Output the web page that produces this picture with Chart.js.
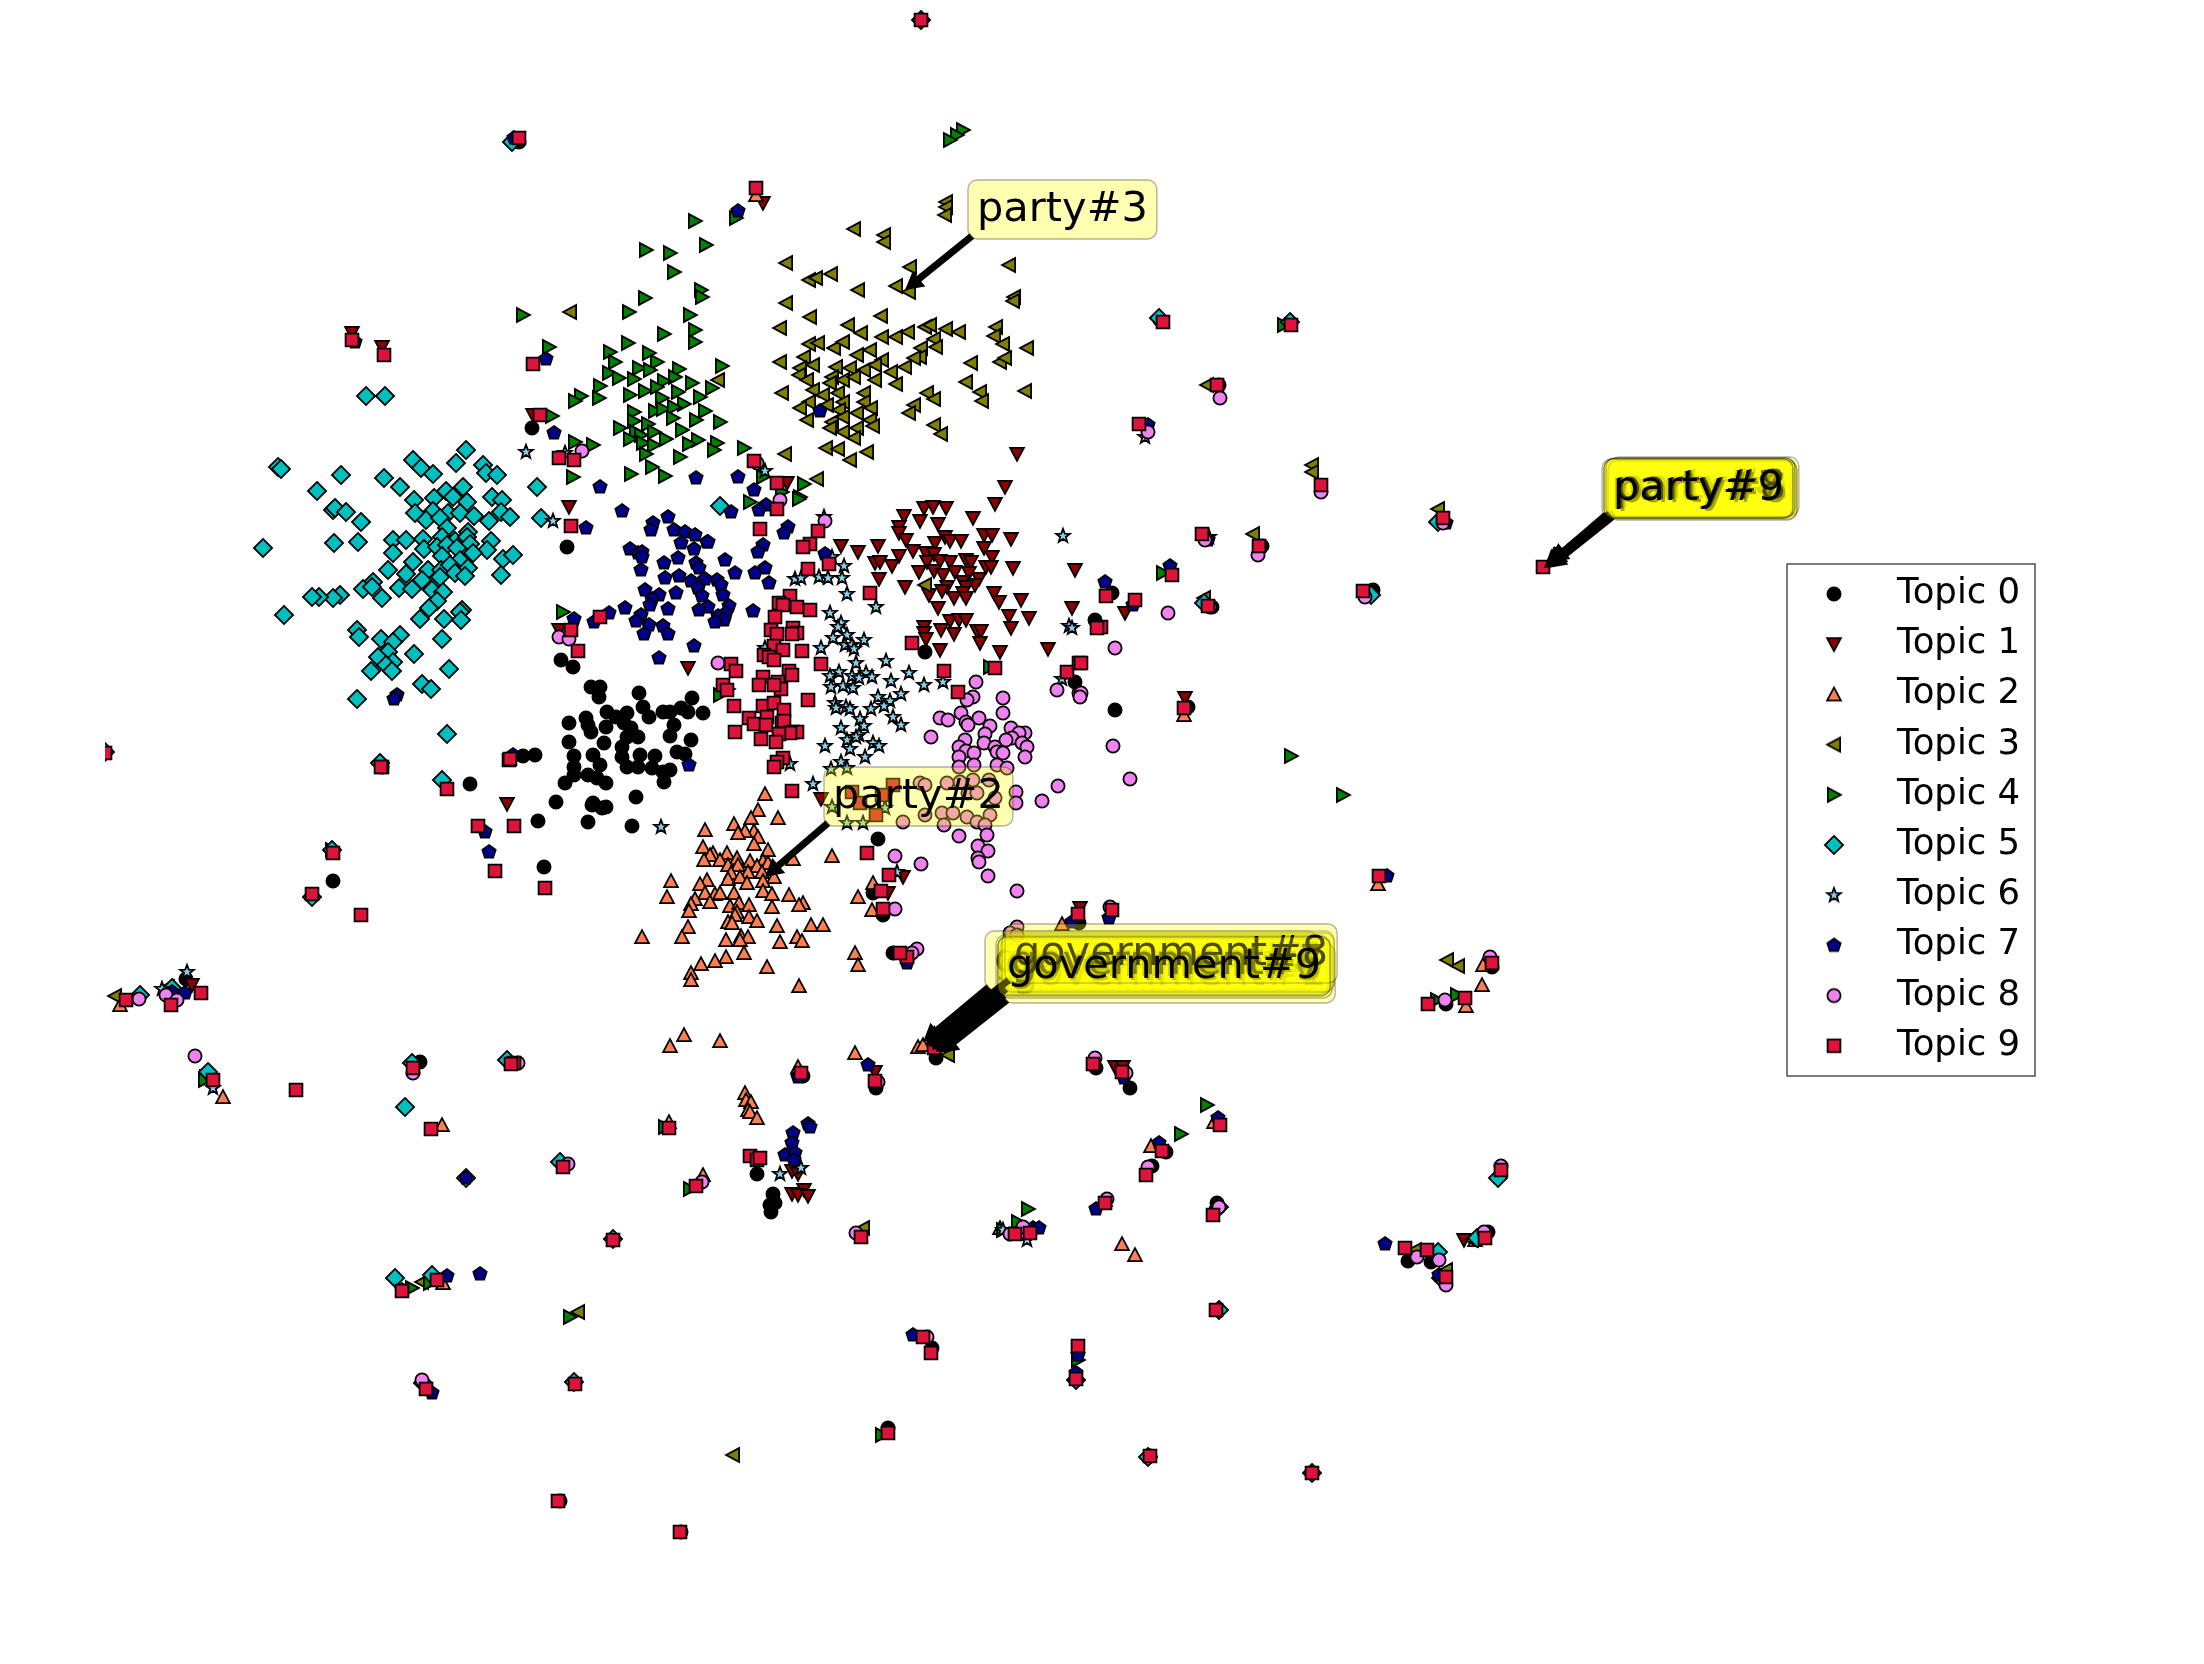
<!DOCTYPE html>
<html>
<head>
<meta charset="utf-8">
<title>Topics</title>
<script src="https://cdn.jsdelivr.net/npm/chart.js@4/dist/chart.umd.js"></script>
<style>
  html, body { margin: 0; background: #fff; }
  canvas { display: block; }
</style>
</head>
<body>
<canvas id="topicChart" width="2204" height="1664"></canvas>
<script>
// Points, one list per topic
const topic0 = [[532,428],[567,547],[561,660],[573,667],[591,687],[600,687],[599,697],[639,693],[692,698],[703,713],[607,712],[616,717],[627,713],[643,707],[649,717],[663,712],[670,712],[681,708],[688,712],[606,727],[624,723],[631,728],[638,737],[627,737],[674,725],[670,736],[691,740],[586,718],[588,725],[591,732],[569,723],[569,742],[604,743],[593,755],[574,756],[622,747],[622,757],[627,767],[600,765],[640,755],[655,756],[638,767],[652,768],[677,752],[685,754],[663,772],[670,770],[574,767],[574,775],[588,775],[597,778],[606,783],[565,783],[664,782],[636,797],[556,802],[593,803],[606,807],[523,756],[535,755],[470,784],[592,805],[602,808],[538,821],[588,822],[632,826],[544,867],[878,839],[333,881],[925,652],[1095,620],[1075,682],[1115,710],[757,1174],[773,1194],[775,1203],[770,1205],[771,1212],[1130,1088],[1096,1068],[1166,1152],[1152,1166],[1488,1232],[1408,1261],[1431,1262],[1217,1203],[873,893],[883,915],[893,953],[936,1058],[803,1076],[876,1088],[1079,923],[186,979],[420,1062],[1219,385],[1160,320],[1262,546],[1112,593],[1373,590],[1212,607],[1188,707],[932,1348],[888,1428],[1492,967],[1446,1004],[382,767],[519,142],[921,20],[560,1501],[681,1532],[1312,1473],[1150,1456]];
const topic1 = [[569,507],[1005,487],[995,504],[924,508],[933,507],[946,508],[904,516],[920,521],[973,518],[899,527],[899,533],[938,524],[906,540],[945,537],[984,535],[992,535],[1011,539],[935,543],[950,541],[961,541],[913,551],[841,546],[878,546],[858,552],[899,556],[984,548],[992,557],[926,553],[934,554],[927,562],[940,561],[950,562],[966,560],[971,562],[875,563],[880,562],[892,566],[1013,568],[1075,570],[919,572],[934,571],[943,575],[955,572],[969,573],[986,567],[991,567],[879,579],[979,579],[963,582],[975,585],[905,587],[947,587],[966,587],[929,595],[942,591],[954,598],[963,593],[966,598],[994,593],[999,602],[1021,600],[938,608],[1072,608],[1009,616],[1029,618],[950,621],[959,620],[966,620],[924,627],[941,630],[954,634],[977,631],[981,631],[1011,628],[924,633],[926,639],[980,643],[940,650],[1000,652],[1048,649],[688,668],[821,799],[1125,613],[763,203],[1017,454],[787,483],[559,630],[533,415],[903,877],[888,893],[875,1072],[1080,908],[1115,1067],[1123,1067],[792,1171],[798,1174],[804,1190],[792,1194],[798,1195],[808,1196],[1464,1240],[1185,698],[207,1076],[192,985],[507,804],[352,333],[382,347]];
const topic2 = [[765,794],[758,810],[778,818],[751,818],[734,824],[705,830],[754,831],[745,831],[758,837],[738,833],[754,844],[703,847],[768,850],[713,853],[727,853],[710,855],[737,858],[704,860],[750,861],[763,861],[793,859],[720,860],[728,865],[738,865],[757,866],[768,863],[731,873],[748,872],[762,872],[774,877],[728,879],[740,877],[671,881],[707,880],[700,884],[747,883],[763,881],[705,893],[734,893],[715,894],[763,891],[772,894],[789,895],[667,897],[695,899],[691,904],[720,893],[710,902],[689,911],[730,906],[739,903],[749,905],[772,907],[803,903],[799,905],[737,912],[735,915],[749,917],[757,921],[728,922],[732,923],[688,927],[777,926],[811,925],[823,925],[682,937],[726,940],[741,936],[748,937],[797,937],[780,942],[802,941],[642,937],[740,940],[744,953],[726,957],[715,961],[701,964],[767,967],[691,973],[691,980],[799,986],[855,953],[858,965],[832,856],[858,897],[873,883],[872,910],[684,1035],[670,1046],[720,1041],[918,1047],[923,1045],[855,1053],[798,1067],[745,1093],[746,1100],[751,1102],[748,1110],[750,1112],[757,1118],[703,1175],[669,1122],[1062,924],[120,1005],[223,1097],[442,1125],[443,1283],[1122,1244],[1135,1255],[1151,1146],[1214,1122],[1105,1200],[1475,1240],[1482,985],[1483,965],[1378,884],[1466,1006],[1184,715],[756,195],[1000,1228]];
const topic3 = [[946,202],[946,207],[945,215],[854,229],[884,235],[884,242],[786,263],[910,267],[1009,265],[809,280],[816,278],[831,274],[858,290],[896,286],[909,292],[1014,297],[1013,301],[786,303],[570,312],[810,317],[881,316],[848,325],[780,328],[861,333],[882,337],[896,337],[908,332],[925,327],[930,325],[946,329],[959,332],[996,327],[994,336],[1003,344],[1027,348],[934,339],[936,347],[809,344],[818,343],[834,348],[843,342],[870,350],[857,355],[882,360],[921,348],[920,357],[780,362],[804,357],[813,365],[836,367],[850,368],[914,358],[905,367],[971,363],[1000,362],[1005,358],[800,368],[799,375],[807,380],[832,377],[864,370],[875,365],[891,372],[718,380],[830,383],[843,380],[854,377],[875,380],[896,384],[966,382],[782,393],[813,390],[823,395],[838,393],[864,393],[980,392],[927,393],[934,399],[1025,391],[982,401],[809,402],[800,408],[827,405],[843,402],[864,402],[914,405],[909,413],[871,408],[839,410],[857,413],[807,420],[832,422],[870,420],[843,417],[830,428],[843,432],[857,428],[873,426],[934,425],[941,434],[854,438],[826,448],[838,449],[867,452],[785,454],[850,460],[817,479],[925,585],[1312,465],[1312,472],[1438,509],[1253,534],[1207,385],[1204,598],[115,996],[168,987],[422,1282],[578,1312],[733,1455],[863,1228],[1447,960],[1458,966],[1415,1250],[1446,1270],[1472,1240],[948,1055]];
const topic4 = [[695,221],[736,218],[706,245],[646,250],[670,253],[674,272],[645,298],[701,290],[702,297],[629,312],[690,315],[523,315],[664,334],[695,330],[695,342],[628,343],[549,347],[610,352],[615,362],[649,353],[657,362],[722,366],[639,368],[650,370],[679,369],[609,373],[619,378],[675,377],[634,379],[664,381],[692,383],[600,386],[581,396],[575,401],[599,398],[630,395],[645,391],[657,387],[678,392],[712,388],[700,397],[662,398],[684,404],[634,412],[655,411],[663,409],[674,407],[705,411],[552,416],[634,421],[648,424],[673,418],[696,420],[720,422],[620,428],[682,430],[636,432],[654,432],[630,439],[641,435],[666,439],[698,440],[575,442],[643,443],[654,445],[689,444],[717,443],[593,445],[714,450],[646,454],[744,448],[680,457],[652,467],[631,474],[665,476],[573,477],[763,477],[804,484],[782,492],[800,497],[563,612],[990,667],[720,695],[750,502],[799,499],[963,130],[957,135],[950,140],[1291,756],[1343,795],[1163,573],[1284,325],[1207,1105],[1181,1134],[1078,1360],[570,1317],[1028,1209],[1018,1222],[1003,1230],[665,1127],[690,1189],[882,1435],[205,1080],[412,1288],[430,1283],[1437,1000],[1457,995],[332,850],[728,689]];
const topic5 = [[278,467],[281,469],[341,475],[317,491],[384,478],[400,487],[413,460],[421,468],[433,474],[466,450],[456,463],[483,465],[486,473],[497,475],[414,500],[446,491],[463,487],[434,498],[453,497],[467,502],[492,497],[502,500],[333,510],[335,508],[346,512],[361,522],[415,513],[433,511],[448,513],[460,513],[474,516],[501,512],[510,517],[426,520],[440,518],[489,521],[447,528],[468,532],[263,548],[334,543],[358,542],[393,540],[406,540],[423,539],[442,537],[455,541],[467,537],[491,541],[393,553],[424,549],[437,547],[447,545],[470,544],[457,548],[487,550],[413,562],[442,556],[460,560],[473,553],[503,559],[513,555],[388,570],[406,574],[428,570],[441,570],[450,565],[468,568],[455,573],[501,575],[465,576],[422,580],[440,577],[373,582],[363,589],[372,587],[399,588],[412,589],[432,590],[443,592],[382,598],[340,595],[333,598],[319,597],[312,597],[437,601],[429,608],[462,610],[460,612],[284,615],[420,619],[444,619],[461,620],[357,630],[359,637],[400,635],[381,639],[393,642],[442,639],[388,652],[414,654],[378,657],[393,662],[386,665],[371,671],[392,671],[449,669],[422,684],[431,689],[357,699],[447,734],[442,780],[537,487],[541,518],[380,763],[720,506],[366,396],[385,396],[105,752],[512,142],[1159,318],[1290,322],[1438,522],[1371,595],[1204,603],[140,995],[172,988],[208,1072],[412,1063],[405,1107],[507,1060],[466,1178],[560,1162],[395,1278],[432,1275],[423,1383],[574,1382],[1498,1178],[1438,1252],[1441,1278],[1477,1238],[1219,1207],[1219,1310],[1076,1380],[1148,1457],[1312,1473],[613,1239],[921,20],[312,897],[332,850]];
const topic6 = [[553,521],[824,517],[1063,536],[832,557],[844,566],[795,579],[801,578],[819,577],[828,578],[842,578],[847,594],[876,607],[830,613],[841,623],[838,627],[1069,626],[1072,628],[847,635],[833,638],[864,640],[845,645],[852,645],[821,648],[854,649],[856,663],[886,661],[839,672],[909,673],[830,676],[852,676],[866,673],[859,678],[872,677],[891,681],[943,682],[831,687],[843,686],[853,688],[924,685],[901,694],[878,697],[890,701],[884,706],[835,703],[836,708],[846,707],[850,709],[871,709],[893,717],[860,719],[864,726],[841,728],[901,725],[859,735],[856,737],[847,740],[873,743],[879,746],[825,746],[850,749],[865,757],[790,764],[841,762],[831,769],[847,768],[813,784],[765,648],[832,807],[847,823],[863,823],[885,808],[661,827],[897,872],[526,452],[565,453],[1062,679],[1145,437],[1109,592],[1209,537],[780,1174],[801,1168],[1003,1230],[1027,1240],[187,972],[162,989],[213,1088],[765,471]];
const topic7 = [[600,487],[622,511],[586,528],[668,517],[653,523],[651,530],[674,530],[685,532],[695,535],[707,542],[708,542],[681,543],[694,549],[630,549],[638,553],[642,552],[642,557],[664,563],[678,558],[641,570],[696,563],[699,568],[725,560],[735,573],[665,578],[679,576],[691,581],[705,579],[717,580],[721,585],[698,588],[645,590],[676,593],[659,595],[702,596],[652,599],[650,605],[723,595],[708,607],[729,606],[668,609],[699,610],[625,608],[609,613],[753,611],[641,615],[726,613],[718,616],[636,621],[724,620],[715,622],[574,619],[594,622],[649,625],[663,626],[644,634],[668,634],[694,646],[659,658],[754,490],[766,505],[759,510],[731,512],[788,527],[784,533],[763,545],[758,552],[765,568],[755,573],[769,583],[825,554],[689,765],[738,211],[546,359],[554,433],[696,478],[738,477],[820,411],[397,695],[394,699],[1148,425],[1105,582],[1170,566],[1208,540],[1446,523],[1133,605],[1385,1244],[1159,1143],[1218,1118],[1096,1209],[1124,1078],[1078,1355],[1076,1373],[1439,1275],[793,1133],[792,1143],[808,1124],[810,1127],[785,1155],[795,1153],[794,1160],[868,1065],[798,1077],[913,1335],[1033,1228],[1039,1228],[1072,922],[1109,918],[907,963],[1387,876],[185,993],[172,992],[466,1178],[480,1274],[447,1276],[402,1290],[432,1393],[355,342],[489,852],[485,832],[514,138],[513,755]];
const topic8 = [[825,521],[718,663],[559,637],[569,639],[976,682],[1057,690],[1079,693],[1003,698],[973,697],[967,700],[1003,713],[961,713],[940,718],[948,720],[979,718],[966,722],[968,725],[990,726],[1011,728],[931,737],[985,734],[1025,733],[1019,733],[1012,738],[965,740],[984,743],[959,747],[1022,743],[1027,747],[995,747],[1006,740],[966,751],[974,753],[997,752],[1003,753],[959,757],[1025,757],[974,765],[959,767],[997,765],[1007,768],[1058,786],[1042,801],[1016,792],[1016,803],[1130,779],[989,780],[973,780],[960,782],[947,783],[920,783],[925,785],[995,798],[968,793],[977,793],[990,815],[942,813],[953,813],[967,817],[977,822],[925,815],[903,822],[944,825],[985,825],[959,836],[987,835],[978,846],[988,851],[978,858],[979,862],[988,876],[1017,891],[895,856],[921,864],[895,909],[917,949],[912,953],[1017,927],[1010,933],[1017,935],[1110,907],[940,1037],[878,1082],[1220,398],[1148,432],[1258,555],[1168,613],[1115,648],[1081,693],[1080,697],[1113,746],[1205,540],[1210,607],[1365,597],[1443,523],[1321,492],[1095,1058],[1126,1073],[1148,1167],[1107,1199],[1219,1207],[1417,1257],[1439,1260],[1446,1285],[1501,1166],[1484,1232],[568,1164],[702,1182],[856,1233],[927,1337],[1023,1227],[1010,1234],[139,999],[166,995],[177,1000],[195,1056],[413,1073],[518,1063],[422,1380],[1490,957],[1445,1000],[582,451],[757,463],[780,500]];
const topic9 = [[571,526],[571,630],[578,651],[600,617],[777,509],[777,483],[760,529],[818,531],[810,544],[803,547],[829,564],[808,569],[870,593],[790,596],[779,603],[783,605],[797,607],[810,610],[775,617],[793,628],[797,633],[792,634],[771,630],[777,634],[774,646],[783,650],[802,651],[764,655],[769,657],[774,660],[821,664],[731,664],[736,671],[789,671],[792,675],[763,677],[759,685],[778,682],[781,689],[774,685],[723,685],[727,690],[734,706],[808,700],[763,706],[774,703],[784,710],[749,718],[767,717],[754,724],[766,725],[782,723],[784,721],[793,732],[797,732],[790,733],[779,734],[735,732],[761,739],[776,742],[783,758],[777,762],[774,767],[792,791],[912,643],[944,671],[995,668],[958,692],[1067,672],[1079,663],[540,415],[559,458],[574,460],[509,760],[382,767],[756,188],[533,364],[754,461],[852,792],[893,785],[882,795],[860,803],[876,815],[867,853],[889,875],[881,891],[883,909],[907,957],[900,953],[934,1048],[801,1073],[875,1081],[1078,914],[1112,910],[1093,1064],[1122,1072],[1163,322],[1291,325],[1217,385],[1139,424],[1321,485],[1443,518],[1202,534],[1259,546],[1172,575],[1106,596],[1135,600],[1208,606],[1101,627],[1097,628],[1081,663],[1363,591],[1543,567],[1184,708],[1220,1125],[1162,1151],[1146,1175],[1105,1203],[1213,1215],[1216,1310],[1078,1346],[1076,1379],[1150,1456],[1312,1473],[1501,1170],[1405,1248],[1427,1250],[1446,1277],[1485,1238],[1379,876],[1492,963],[1428,1004],[1465,998],[669,1128],[750,1156],[757,1160],[760,1158],[563,1167],[696,1186],[613,1240],[861,1237],[1015,1234],[1030,1233],[923,1337],[931,1353],[888,1433],[575,1384],[558,1501],[680,1532],[126,1000],[171,1005],[201,993],[213,1080],[296,1090],[413,1068],[431,1129],[514,1063],[511,1064],[402,1291],[437,1280],[426,1389],[105,753],[921,20],[519,138],[352,340],[384,355],[312,894],[333,853],[361,915],[381,767],[478,826],[514,826],[447,789],[495,871],[545,888],[510,759]];

const topicNames = ['Topic 0', 'Topic 1', 'Topic 2', 'Topic 3', 'Topic 4', 'Topic 5', 'Topic 6', 'Topic 7', 'Topic 8', 'Topic 9'];
const topicColors = ['#000000', '#8b0000', '#ff7f50', '#808000', '#008000', '#00bfbf', '#87ceeb', '#00008b', '#ee82ee', '#dc143c'];
const topicShapes = ['circle', 'down', 'up', 'left', 'right', 'diamond', 'star', 'pentagon', 'circle', 'square'];
const topicPoints = [topic0, topic1, topic2, topic3, topic4, topic5, topic6, topic7, topic8, topic9];

// Labels in drawing order: text, text x, baseline y, arrow tip x, arrow tip y
const annotationText = ['party#3', 'party#2',
  'party#0', 'party#1', 'party#4', 'party#5', 'party#6', 'party#7', 'party#8', 'party#9',
  'government#0', 'government#1', 'government#3', 'government#4', 'government#5', 'government#6', 'government#7', 'government#8', 'government#9'];
const annotationX = [977, 833,
  1617, 1619, 1611, 1615, 1617, 1613, 1615, 1613,
  994, 1012, 1011, 1005, 1009, 1007, 1011, 1014, 1007];
const annotationY = [221, 808,
  501, 498, 500, 499, 502, 500, 499, 500,
  972, 985, 972, 976, 980, 977, 974, 965, 978];
const arrowTipX = [905, 765,
  1548, 1550, 1544, 1546, 1548, 1546, 1547, 1546,
  923, 940, 932, 928, 936, 932, 930, 926, 936];
const arrowTipY = [290, 877,
  565, 562, 568, 566, 568, 566, 565, 566,
  1042, 1053, 1048, 1046, 1052, 1050, 1047, 1044, 1051];

function tracePolygon(ctx, pts) {
  ctx.beginPath();
  pts.forEach(function(p, i) {
    if (i === 0) ctx.moveTo(p[0], p[1]); else ctx.lineTo(p[0], p[1]);
  });
  ctx.closePath();
}

// Chart.js has no pentagon or 5-point star, so each marker is a small canvas
function makeMarker(shape, color) {
  const c = document.createElement('canvas');
  c.width = 28;
  c.height = 28;
  const ctx = c.getContext('2d');
  ctx.translate(14, 14);
  ctx.fillStyle = color;
  ctx.strokeStyle = '#000';
  ctx.lineWidth = 1.8;
  ctx.lineJoin = 'miter';
  if (shape === 'circle') {
    ctx.beginPath();
    ctx.arc(0, 0, 6.6, 0, Math.PI * 2);
  } else if (shape === 'down') {
    tracePolygon(ctx, [[-6.9, -6.1], [6.9, -6.1], [0, 6.9]]);
  } else if (shape === 'up') {
    tracePolygon(ctx, [[-6.9, 6.1], [6.9, 6.1], [0, -6.9]]);
  } else if (shape === 'left') {
    tracePolygon(ctx, [[6.1, -6.9], [6.1, 6.9], [-6.9, 0]]);
  } else if (shape === 'right') {
    tracePolygon(ctx, [[-6.1, -6.9], [-6.1, 6.9], [6.9, 0]]);
  } else if (shape === 'diamond') {
    tracePolygon(ctx, [[0, -9.1], [9.1, 0], [0, 9.1], [-9.1, 0]]);
  } else if (shape === 'square') {
    tracePolygon(ctx, [[-6.4, -6.4], [6.4, -6.4], [6.4, 6.4], [-6.4, 6.4]]);
  } else if (shape === 'pentagon') {
    const pts = [];
    for (let i = 0; i < 5; i++) {
      const a = -Math.PI / 2 + i * 2 * Math.PI / 5;
      pts.push([7 * Math.cos(a), 7 * Math.sin(a)]);
    }
    tracePolygon(ctx, pts);
  } else if (shape === 'star') {
    const pts = [];
    for (let i = 0; i < 10; i++) {
      const a = -Math.PI / 2 + i * Math.PI / 5;
      const r = i % 2 === 0 ? 7.2 : 3;
      pts.push([r * Math.cos(a), r * Math.sin(a)]);
    }
    tracePolygon(ctx, pts);
  }
  ctx.fill();
  ctx.stroke();
  return c;
}

const markers = topicShapes.map(function(s, i) { return makeMarker(s, topicColors[i]); });

function roundedBox(ctx, x, y, w, h, r) {
  ctx.beginPath();
  ctx.moveTo(x + r, y);
  ctx.arcTo(x + w, y, x + w, y + h, r);
  ctx.arcTo(x + w, y + h, x, y + h, r);
  ctx.arcTo(x, y + h, x, y, r);
  ctx.arcTo(x, y, x + w, y, r);
  ctx.closePath();
}

function drawArrow(ctx, x0, y0, x1, y1) {
  const a = Math.atan2(y1 - y0, x1 - x0);
  const len = Math.hypot(x1 - x0, y1 - y0);
  ctx.save();
  ctx.translate(x0, y0);
  ctx.rotate(a);
  ctx.fillStyle = '#000';
  ctx.beginPath();
  ctx.moveTo(0, -3.5);
  ctx.lineTo(len - 18, -3.5);
  ctx.lineTo(len - 18, -10);
  ctx.lineTo(len, 0);
  ctx.lineTo(len - 18, 10);
  ctx.lineTo(len - 18, 3.5);
  ctx.lineTo(0, 3.5);
  ctx.closePath();
  ctx.fill();
  ctx.restore();
}

const overlayPlugin = {
  id: 'overlay',
  afterDraw: function(chart) {
    const ctx = chart.ctx;
    const sx = chart.scales.x;
    const sy = chart.scales.y;
    ctx.save();
    ctx.textBaseline = 'alphabetic';
    ctx.textAlign = 'left';

    // annotations, later boxes wash over the earlier ones
    ctx.font = '41.5px "DejaVu Sans"';
    annotationText.forEach(function(t, i) {
      const tx = sx.getPixelForValue(annotationX[i]);
      const ty = sy.getPixelForValue(annotationY[i]);
      const w = ctx.measureText(t).width;
      const bx = tx - 9, by = ty - 41, bw = w + 18, bh = 59;
      const tipX = sx.getPixelForValue(arrowTipX[i]);
      const tipY = sy.getPixelForValue(arrowTipY[i]);
      // arrow leaves from the lower left corner of the box
      drawArrow(ctx, bx + 4, by + bh - 3, tipX, tipY);
      roundedBox(ctx, bx, by, bw, bh, 9);
      ctx.fillStyle = 'rgba(255,255,0,0.3)';
      ctx.fill();
      ctx.strokeStyle = 'rgba(0,0,0,0.3)';
      ctx.lineWidth = 1.4;
      ctx.stroke();
      ctx.fillStyle = '#000';
      ctx.fillText(t, tx, ty);
    });

    // legend box
    ctx.fillStyle = '#fff';
    ctx.fillRect(1787, 564, 248, 512);
    ctx.strokeStyle = '#444';
    ctx.lineWidth = 1.4;
    ctx.strokeRect(1787, 564, 248, 512);
    ctx.font = '35.5px "DejaVu Sans"';
    topicNames.forEach(function(name, i) {
      const y = 594 + i * 50.2;
      ctx.drawImage(markers[i], 1834 - 14, y - 14);
      ctx.fillStyle = '#000';
      ctx.fillText(name, 1897, y + 9);
    });
    ctx.restore();
  }
};

new Chart(document.getElementById('topicChart').getContext('2d'), {
  type: 'scatter',
  data: {
    datasets: topicPoints.map(function(pts, i) {
      return {
        label: topicNames[i],
        data: pts,
        pointStyle: markers[i],
        pointRadius: 7,
        clip: 0,
        order: 9 - i  // topic 9 ends up on top
      };
    })
  },
  options: {
    responsive: false,
    devicePixelRatio: 1,
    animation: false,
    layout: { autoPadding: false, padding: { left: 105, right: 0, top: 0, bottom: 0 } },
    plugins: { legend: { display: false }, title: { display: false }, tooltip: { enabled: false } },
    scales: {
      x: { type: 'linear', display: false, min: 105, max: 2204 },
      y: { type: 'linear', display: false, min: 0, max: 1664, reverse: true }
    }
  },
  plugins: [overlayPlugin]
});
</script>
</body>
</html>
